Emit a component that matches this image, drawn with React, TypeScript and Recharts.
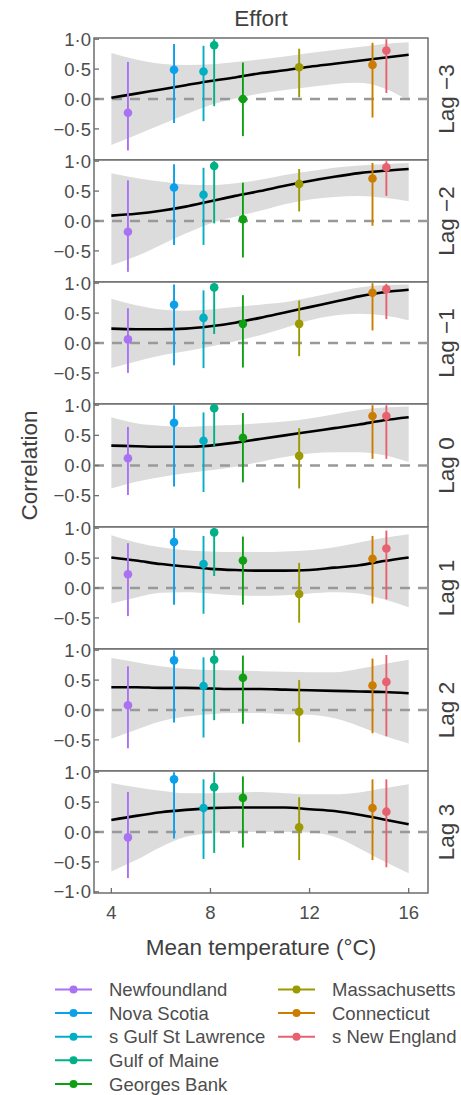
import React from "react";
import {
  ComposedChart,
  XAxis,
  YAxis,
  Area,
  Line,
  Scatter,
  ErrorBar,
  ReferenceLine,
  ReferenceArea,
} from "recharts";

// ---------- data ----------
const REGIONS = [
  "Newfoundland",
  "Nova Scotia",
  "s Gulf St Lawrence",
  "Gulf of Maine",
  "Georges Bank",
  "Massachusetts",
  "Connecticut",
  "s New England",
];
const REGION_COLORS = [
  "#A972F2",
  "#0C9FEA",
  "#00AFC3",
  "#00B086",
  "#0EA012",
  "#9B9A00",
  "#CC7C00",
  "#E8616F",
];
const MEAN_TEMP = [4.67, 6.53, 7.72, 8.15, 9.31, 11.58, 14.54, 15.1];
const LAG_LABELS = ["Lag −3", "Lag −2", "Lag −1", "Lag 0", "Lag 1", "Lag 2", "Lag 3"];
const X_TICKS = [4, 8, 12, 16];
const Y_TICKS = [-0.5, 0, 0.5, 1];
const Y_TICKS_BOTTOM = [-1, -0.5, 0, 0.5, 1];
const TITLE = "Effort";
const X_TITLE = "Mean temperature (°C)";
const Y_TITLE = "Correlation";

// correlation estimate per lag (rows) and region (columns)
const CORR = [
  [-0.23, 0.49, 0.46, 0.9, 0.0, 0.53, 0.57, 0.81],
  [-0.18, 0.56, 0.44, 0.92, 0.03, 0.62, 0.71, 0.9],
  [0.06, 0.64, 0.42, 0.93, 0.32, 0.32, 0.84, 0.9],
  [0.12, 0.71, 0.41, 0.95, 0.46, 0.16, 0.82, 0.82],
  [0.23, 0.77, 0.4, 0.93, 0.46, -0.1, 0.49, 0.66],
  [0.08, 0.83, 0.4, 0.84, 0.54, -0.03, 0.41, 0.47],
  [-0.09, 0.88, 0.4, 0.75, 0.57, 0.08, 0.4, 0.34],
];
const CORR_LOW = [
  [-0.86, -0.4, -0.37, -0.12, -0.62, 0.03, -0.31, 0.1],
  [-0.85, -0.4, -0.4, -0.04, -0.61, 0.16, -0.08, 0.42],
  [-0.5, -0.37, -0.42, 0.15, -0.41, -0.22, 0.21, 0.4],
  [-0.49, -0.35, -0.44, 0.32, -0.28, -0.38, 0.11, 0.11],
  [-0.47, -0.28, -0.43, 0.2, -0.28, -0.58, -0.26, -0.19],
  [-0.64, -0.21, -0.46, -0.17, -0.23, -0.54, -0.39, -0.44],
  [-0.77, -0.11, -0.45, -0.35, -0.26, -0.47, -0.47, -0.59],
];
const CORR_HIGH = [
  [0.62, 0.92, 0.89, 1.0, 0.61, 0.84, 0.94, 1.0],
  [0.68, 0.95, 0.89, 1.0, 0.64, 0.87, 0.97, 1.0],
  [0.58, 0.98, 0.88, 1.0, 0.8, 0.71, 1.0, 0.99],
  [0.64, 1.0, 0.88, 1.0, 0.87, 0.62, 1.0, 1.0],
  [0.75, 1.0, 0.87, 1.0, 0.86, 0.42, 0.87, 0.96],
  [0.73, 1.0, 0.88, 1.0, 0.91, 0.5, 0.86, 0.92],
  [0.67, 1.0, 0.88, 1.0, 0.93, 0.58, 0.88, 0.88],
];

// smoother at whole degrees
const SMOOTH_X = [4, 5, 6, 7, 8, 9, 10, 11, 12, 13, 14, 15, 16];
const SMOOTH_FIT = [
  [0.02, 0.09, 0.16, 0.23, 0.3, 0.36, 0.43, 0.48, 0.54, 0.59, 0.64, 0.69, 0.74],
  [0.09, 0.12, 0.17, 0.24, 0.33, 0.42, 0.5, 0.59, 0.67, 0.74, 0.8, 0.84, 0.87],
  [0.24, 0.23, 0.23, 0.24, 0.28, 0.34, 0.42, 0.51, 0.6, 0.69, 0.78, 0.85, 0.89],
  [0.33, 0.32, 0.31, 0.31, 0.33, 0.38, 0.44, 0.5, 0.56, 0.62, 0.68, 0.75, 0.8],
  [0.51, 0.46, 0.4, 0.36, 0.32, 0.3, 0.29, 0.29, 0.3, 0.34, 0.38, 0.45, 0.51],
  [0.38, 0.38, 0.37, 0.37, 0.36, 0.35, 0.35, 0.34, 0.33, 0.32, 0.31, 0.3, 0.28],
  [0.2, 0.27, 0.33, 0.37, 0.4, 0.41, 0.41, 0.41, 0.38, 0.35, 0.29, 0.21, 0.13],
];
const SMOOTH_LOW = [
  [-0.77, -0.6, -0.43, -0.26, -0.1, 0.01, 0.09, 0.15, 0.2, 0.25, 0.27, 0.18, -0.03],
  [-0.74, -0.59, -0.4, -0.21, -0.04, 0.07, 0.17, 0.28, 0.36, 0.4, 0.42, 0.39, 0.33],
  [-0.42, -0.31, -0.21, -0.14, -0.06, 0.03, 0.13, 0.25, 0.38, 0.46, 0.49, 0.46, 0.38],
  [-0.38, -0.27, -0.19, -0.13, -0.08, -0.02, 0.06, 0.14, 0.2, 0.22, 0.22, 0.17, 0.06],
  [-0.26, -0.16, -0.08, -0.07, -0.09, -0.12, -0.13, -0.12, -0.09, -0.07, -0.09, -0.19, -0.32],
  [-0.48, -0.33, -0.19, -0.11, -0.07, -0.05, -0.05, -0.07, -0.08, -0.14, -0.27, -0.43, -0.56],
  [-0.66, -0.47, -0.25, -0.08, -0.02, 0.0, 0.0, 0.0, -0.01, -0.08, -0.27, -0.49, -0.69],
];
const SMOOTH_HIGH = [
  [0.77, 0.66, 0.59, 0.57, 0.58, 0.62, 0.66, 0.71, 0.77, 0.82, 0.87, 0.92, 0.95],
  [0.8, 0.72, 0.66, 0.61, 0.6, 0.63, 0.69, 0.77, 0.83, 0.89, 0.93, 0.95, 0.97],
  [0.74, 0.63, 0.56, 0.54, 0.56, 0.6, 0.64, 0.68, 0.76, 0.85, 0.93, 0.97, 0.98],
  [0.8, 0.7, 0.66, 0.64, 0.66, 0.67, 0.7, 0.73, 0.78, 0.85, 0.92, 0.96, 0.98],
  [0.88, 0.76, 0.68, 0.63, 0.61, 0.6, 0.6, 0.61, 0.63, 0.68, 0.76, 0.84, 0.9],
  [0.87, 0.8, 0.73, 0.69, 0.67, 0.66, 0.65, 0.64, 0.63, 0.63, 0.69, 0.77, 0.84],
  [0.82, 0.75, 0.69, 0.65, 0.65, 0.66, 0.67, 0.65, 0.63, 0.63, 0.66, 0.73, 0.8],
];

// ---------- layout / style ----------
const W = 461;
const H = 1095;
const PLOT_LEFT = 94;
const PLOT_RIGHT = 428;
const Y_AXIS_W = 60;
const PANEL_TOP0 = 37.7;
const PANEL_STEP = 122.23;
const PAD_TOP = 12;
const X_AXIS_H = 44;
const X_DOMAIN: [number, number] = [3.3, 16.78];
const Y_DOMAIN: [number, number] = [-1.02, 1.02];
const FONT = "'Liberation Sans', Arial, Helvetica, sans-serif";
const TEXT_COL = "#4D4D4D";
const TITLE_COL = "#3F3F3F";
const BORDER_COL = "#6E6E6E";
const TICK_FONT = 18.5;
const TITLE_FONT = 22.5;
const Y_TICK_MARGIN = 3;
const X_TICK_MARGIN = 13;
const LEGEND_Y0 = 989.5;
const LEGEND_STEP = 23.6;

const fmt = (v: number) =>
  (v < 0 ? "−" : "") + Math.abs(v).toFixed(1).replace(".", "·");

const YTick = (props: any) => {
  const { x, y, payload } = props;
  return (
    <g>
      <line
        x1={x + Y_TICK_MARGIN}
        x2={x + Y_TICK_MARGIN + 5}
        y1={y}
        y2={y}
        stroke={BORDER_COL}
        strokeWidth={1.3}
      />
      <text
        x={x}
        y={y}
        dy="0.36em"
        textAnchor="end"
        fill={TEXT_COL}
        fontSize={TICK_FONT}
        fontFamily={FONT}
      >
        {fmt(payload.value)}
      </text>
    </g>
  );
};

const XTick = (props: any) => {
  const { x, y, payload } = props;
  return (
    <g>
      <line
        x1={x}
        x2={x}
        y1={y - X_TICK_MARGIN}
        y2={y - X_TICK_MARGIN - 5}
        stroke={BORDER_COL}
        strokeWidth={1.3}
      />
      <text
        x={x}
        y={y}
        dy="0.71em"
        textAnchor="middle"
        fill={TEXT_COL}
        fontSize={TICK_FONT}
        fontFamily={FONT}
      >
        {payload.value}
      </text>
    </g>
  );
};

const panelTop = (i: number) => Math.round(PANEL_TOP0 + i * PANEL_STEP);

function Panel({ lag }: { lag: number }) {
  const isLast = lag === LAG_LABELS.length - 1;
  const top = panelTop(lag);
  const bottom = panelTop(lag + 1);
  const h = PAD_TOP + bottom - top + (isLast ? X_AXIS_H : 0);

  const smoothData = SMOOTH_X.map((x, k) => ({
    x,
    fit: SMOOTH_FIT[lag][k],
    band: [SMOOTH_LOW[lag][k], SMOOTH_HIGH[lag][k]],
  }));

  return (
    <div style={{ position: "absolute", left: 0, top: top - PAD_TOP }}>
      <ComposedChart
        width={W}
        height={h}
        data={smoothData}
        margin={{ top: PAD_TOP, right: W - PLOT_RIGHT, bottom: 0, left: PLOT_LEFT - Y_AXIS_W }}
      >
        <XAxis
          dataKey="x"
          type="number"
          domain={X_DOMAIN}
          ticks={X_TICKS}
          allowDataOverflow
          hide={!isLast}
          height={isLast ? X_AXIS_H : 0}
          axisLine={false}
          tickLine={false}
          tickSize={0}
          tickMargin={X_TICK_MARGIN}
          tick={<XTick />}
          interval={0}
        />
        <YAxis
          type="number"
          domain={Y_DOMAIN}
          ticks={isLast ? Y_TICKS_BOTTOM : Y_TICKS}
          allowDataOverflow
          width={Y_AXIS_W}
          axisLine={false}
          tickLine={false}
          tickSize={0}
          tickMargin={Y_TICK_MARGIN}
          tick={<YTick />}
          interval={0}
        />
        <Area
          dataKey="band"
          type="monotone"
          fill="#DCDCDC"
          fillOpacity={1}
          stroke="none"
          isAnimationActive={false}
          activeDot={false}
        />
        <ReferenceLine
          y={0}
          stroke="#999999"
          strokeWidth={2.3}
          strokeDasharray="10 8"
        />
        <Line
          dataKey="fit"
          type="monotone"
          stroke="#000000"
          strokeWidth={2.6}
          dot={false}
          activeDot={false}
          isAnimationActive={false}
        />
        {REGIONS.map((name, r) => {
          const y = CORR[lag][r];
          const pts = [
            {
              x: MEAN_TEMP[r],
              y,
              err: [y - CORR_LOW[lag][r], CORR_HIGH[lag][r] - y],
            },
          ];
          const col = REGION_COLORS[r];
          return (
            <Scatter
              key={name}
              name={name}
              data={pts}
              dataKey="y"
              fill={col}
              isAnimationActive={false}
              shape={(p: any) => <circle cx={p.cx} cy={p.cy} r={4.3} fill={col} />}
            >
              <ErrorBar
                dataKey="err"
                direction="y"
                width={0}
                stroke={col}
                strokeWidth={1.9}
                isAnimationActive={false}
              />
            </Scatter>
          );
        })}
        <ReferenceArea
          x1={X_DOMAIN[0]}
          x2={X_DOMAIN[1]}
          y1={Y_DOMAIN[0]}
          y2={Y_DOMAIN[1]}
          fill="none"
          fillOpacity={0}
          stroke={BORDER_COL}
          strokeWidth={1.5}
          ifOverflow="visible"
        />
      </ComposedChart>
    </div>
  );
}

function Overlay() {
  const legendRowY = (k: number) => LEGEND_Y0 + k * LEGEND_STEP;
  const plotMidX = (PLOT_LEFT + PLOT_RIGHT) / 2;
  const allTop = panelTop(0);
  const allBottom = panelTop(LAG_LABELS.length);
  return (
    <svg
      width={W}
      height={H}
      style={{ position: "absolute", left: 0, top: 0, pointerEvents: "none" }}
    >
      <text
        x={plotMidX}
        y={26}
        textAnchor="middle"
        fill={TITLE_COL}
        fontSize={TITLE_FONT}
        fontFamily={FONT}
      >
        {TITLE}
      </text>
      {LAG_LABELS.map((lab, i) => {
        const cy = (panelTop(i) + panelTop(i + 1)) / 2;
        return (
          <text
            key={lab}
            transform={`translate(454, ${cy}) rotate(-90)`}
            textAnchor="middle"
            fill={TITLE_COL}
            fontSize={TITLE_FONT}
            fontFamily={FONT}
          >
            {lab}
          </text>
        );
      })}
      <text
        transform={`translate(37, ${(allTop + allBottom) / 2}) rotate(-90)`}
        textAnchor="middle"
        fill={TITLE_COL}
        fontSize={TITLE_FONT}
        fontFamily={FONT}
      >
        {Y_TITLE}
      </text>
      <text
        x={plotMidX}
        y={955}
        textAnchor="middle"
        fill={TITLE_COL}
        fontSize={TITLE_FONT}
        fontFamily={FONT}
      >
        {X_TITLE}
      </text>
      {REGIONS.map((name, r) => {
        const col = r < 5 ? 0 : 1;
        const row = r < 5 ? r : r - 5;
        const kx0 = col === 0 ? 55 : 278;
        const kx1 = kx0 + 37;
        const tx = col === 0 ? 109 : 332;
        const cy = legendRowY(row);
        return (
          <g key={name}>
            <line x1={kx0} x2={kx1} y1={cy} y2={cy} stroke={REGION_COLORS[r]} strokeWidth={2} />
            <circle cx={(kx0 + kx1) / 2} cy={cy} r={4} fill={REGION_COLORS[r]} />
            <text
              x={tx}
              y={cy}
              dy="0.36em"
              fill={TEXT_COL}
              fontSize={TICK_FONT}
              fontFamily={FONT}
            >
              {name}
            </text>
          </g>
        );
      })}
    </svg>
  );
}

export default function App() {
  return (
    <div
      style={{
        position: "absolute",
        left: 0,
        top: 0,
        width: W,
        height: H,
        background: "#ffffff",
        overflow: "hidden",
      }}
    >
      {LAG_LABELS.map((lab, i) => (
        <Panel key={lab} lag={i} />
      ))}
      <Overlay />
    </div>
  );
}
